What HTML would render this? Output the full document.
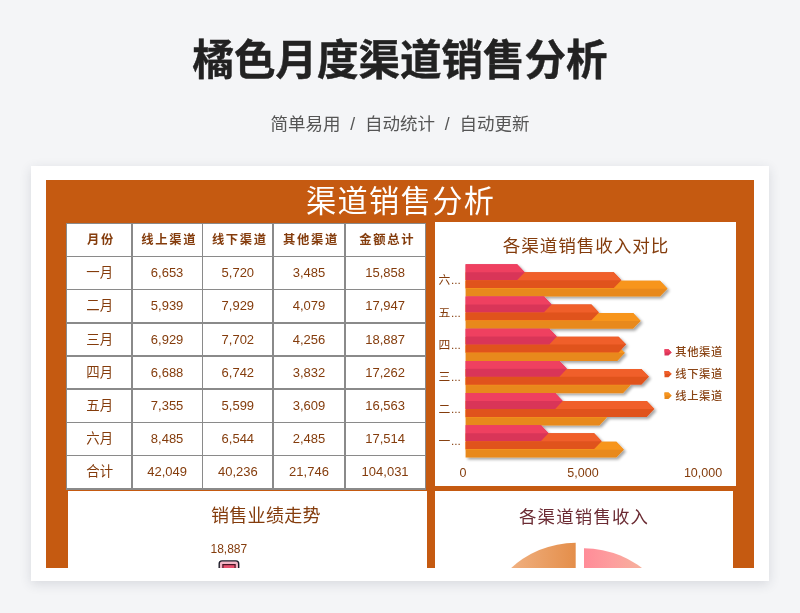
<!DOCTYPE html>
<html lang="zh-CN"><head><meta charset="utf-8"><title>橘色月度渠道销售分析</title>
<style>
html,body{margin:0;padding:0;}
body{width:800px;height:613px;overflow:hidden;background:#f4f5f7;position:relative;font-family:"Liberation Sans","Noto Sans CJK SC",sans-serif;}
.abs{position:absolute;}
.title{left:0;width:800px;top:30.3px;-webkit-text-stroke:0.45px #222;height:62px;line-height:62px;text-align:center;font-size:41.5px;font-weight:700;color:#222;letter-spacing:0;}
.sub{left:0;width:800px;top:110px;height:28px;line-height:28px;text-align:center;font-size:17.5px;color:#555;word-spacing:5px;}
.card{left:31px;top:166px;width:738px;height:415px;background:#fff;box-shadow:0 3px 11px rgba(40,50,70,0.14);}
.head{left:0;width:800px;top:181.7px;height:42px;line-height:40px;text-align:center;color:#fff;font-size:30.2px;font-weight:400;letter-spacing:1.4px;text-indent:1.4px;}
.cell{position:absolute;text-align:center;color:#843c0c;font-size:13px;white-space:nowrap;}
.th{font-weight:700;font-size:12.3px;letter-spacing:1.7px;text-indent:4.1px;}
.c0{font-size:13.4px;text-indent:1.4px;}
.panel{background:#fff;}
svg text{font-family:"Liberation Sans","Noto Sans CJK SC",sans-serif;}
</style></head><body>
<div class="abs title">橘色月度渠道销售分析</div>
<div class="abs sub">简单易用 / 自动统计 / 自动更新</div>
<div class="abs card"></div>
<div class="abs" style="left:46px;top:180px;width:708px;height:388px;background:#c55a11;"></div>
<div class="abs head">渠道销售分析</div>

<div class="abs" style="left:65.5px;top:222.5px;width:360.7px;height:267.1px;background:#8a8a8a;"></div>
<div class="cell th" style="left:67.0px;top:224.0px;width:64.0px;height:31.7px;line-height:32.7px;background:#fff;">月份</div>
<div class="cell th" style="left:132.5px;top:224.0px;width:69.2px;height:31.7px;line-height:32.7px;background:#fff;">线上渠道</div>
<div class="cell th" style="left:203.2px;top:224.0px;width:69.3px;height:31.7px;line-height:32.7px;background:#fff;">线下渠道</div>
<div class="cell th" style="left:274.0px;top:224.0px;width:70.0px;height:31.7px;line-height:32.7px;background:#fff;">其他渠道</div>
<div class="cell th" style="left:345.5px;top:224.0px;width:79.2px;height:31.7px;line-height:32.7px;background:#fff;">金额总计</div>
<div class="cell c0" style="left:67.0px;top:257.2px;width:64.0px;height:31.7px;line-height:32.7px;background:#fff;">一月</div>
<div class="cell" style="left:132.5px;top:257.2px;width:69.2px;height:31.7px;line-height:32.7px;background:#fff;">6,653</div>
<div class="cell" style="left:203.2px;top:257.2px;width:69.3px;height:31.7px;line-height:32.7px;background:#fff;">5,720</div>
<div class="cell" style="left:274.0px;top:257.2px;width:70.0px;height:31.7px;line-height:32.7px;background:#fff;">3,485</div>
<div class="cell" style="left:345.5px;top:257.2px;width:79.2px;height:31.7px;line-height:32.7px;background:#fff;">15,858</div>
<div class="cell c0" style="left:67.0px;top:290.4px;width:64.0px;height:31.7px;line-height:32.7px;background:#fff;">二月</div>
<div class="cell" style="left:132.5px;top:290.4px;width:69.2px;height:31.7px;line-height:32.7px;background:#fff;">5,939</div>
<div class="cell" style="left:203.2px;top:290.4px;width:69.3px;height:31.7px;line-height:32.7px;background:#fff;">7,929</div>
<div class="cell" style="left:274.0px;top:290.4px;width:70.0px;height:31.7px;line-height:32.7px;background:#fff;">4,079</div>
<div class="cell" style="left:345.5px;top:290.4px;width:79.2px;height:31.7px;line-height:32.7px;background:#fff;">17,947</div>
<div class="cell c0" style="left:67.0px;top:323.6px;width:64.0px;height:31.7px;line-height:32.7px;background:#fff;">三月</div>
<div class="cell" style="left:132.5px;top:323.6px;width:69.2px;height:31.7px;line-height:32.7px;background:#fff;">6,929</div>
<div class="cell" style="left:203.2px;top:323.6px;width:69.3px;height:31.7px;line-height:32.7px;background:#fff;">7,702</div>
<div class="cell" style="left:274.0px;top:323.6px;width:70.0px;height:31.7px;line-height:32.7px;background:#fff;">4,256</div>
<div class="cell" style="left:345.5px;top:323.6px;width:79.2px;height:31.7px;line-height:32.7px;background:#fff;">18,887</div>
<div class="cell c0" style="left:67.0px;top:356.8px;width:64.0px;height:31.7px;line-height:32.7px;background:#fff;">四月</div>
<div class="cell" style="left:132.5px;top:356.8px;width:69.2px;height:31.7px;line-height:32.7px;background:#fff;">6,688</div>
<div class="cell" style="left:203.2px;top:356.8px;width:69.3px;height:31.7px;line-height:32.7px;background:#fff;">6,742</div>
<div class="cell" style="left:274.0px;top:356.8px;width:70.0px;height:31.7px;line-height:32.7px;background:#fff;">3,832</div>
<div class="cell" style="left:345.5px;top:356.8px;width:79.2px;height:31.7px;line-height:32.7px;background:#fff;">17,262</div>
<div class="cell c0" style="left:67.0px;top:390.0px;width:64.0px;height:31.7px;line-height:32.7px;background:#fff;">五月</div>
<div class="cell" style="left:132.5px;top:390.0px;width:69.2px;height:31.7px;line-height:32.7px;background:#fff;">7,355</div>
<div class="cell" style="left:203.2px;top:390.0px;width:69.3px;height:31.7px;line-height:32.7px;background:#fff;">5,599</div>
<div class="cell" style="left:274.0px;top:390.0px;width:70.0px;height:31.7px;line-height:32.7px;background:#fff;">3,609</div>
<div class="cell" style="left:345.5px;top:390.0px;width:79.2px;height:31.7px;line-height:32.7px;background:#fff;">16,563</div>
<div class="cell c0" style="left:67.0px;top:423.2px;width:64.0px;height:31.7px;line-height:32.7px;background:#fff;">六月</div>
<div class="cell" style="left:132.5px;top:423.2px;width:69.2px;height:31.7px;line-height:32.7px;background:#fff;">8,485</div>
<div class="cell" style="left:203.2px;top:423.2px;width:69.3px;height:31.7px;line-height:32.7px;background:#fff;">6,544</div>
<div class="cell" style="left:274.0px;top:423.2px;width:70.0px;height:31.7px;line-height:32.7px;background:#fff;">2,485</div>
<div class="cell" style="left:345.5px;top:423.2px;width:79.2px;height:31.7px;line-height:32.7px;background:#fff;">17,514</div>
<div class="cell c0" style="left:67.0px;top:456.4px;width:64.0px;height:31.7px;line-height:32.7px;background:#fff;">合计</div>
<div class="cell" style="left:132.5px;top:456.4px;width:69.2px;height:31.7px;line-height:32.7px;background:#fff;">42,049</div>
<div class="cell" style="left:203.2px;top:456.4px;width:69.3px;height:31.7px;line-height:32.7px;background:#fff;">40,236</div>
<div class="cell" style="left:274.0px;top:456.4px;width:70.0px;height:31.7px;line-height:32.7px;background:#fff;">21,746</div>
<div class="cell" style="left:345.5px;top:456.4px;width:79.2px;height:31.7px;line-height:32.7px;background:#fff;">104,031</div>
<div class="abs panel" style="left:434.5px;top:221.5px;width:301px;height:264px;"></div>
<div class="abs panel" style="left:67.5px;top:490.5px;width:359.5px;height:77.5px;"></div>
<div class="abs panel" style="left:434.5px;top:490.5px;width:298.2px;height:77.5px;"></div>
<svg class="abs" style="left:0;top:0;" width="800" height="613" viewBox="0 0 800 613">
<defs>
<filter id="sh" x="-5%" y="-5%" width="112%" height="112%"><feGaussianBlur in="SourceAlpha" stdDeviation="1.7"/><feOffset dx="1.6" dy="1.8"/><feComponentTransfer><feFuncA type="linear" slope="0.36"/></feComponentTransfer><feMerge><feMergeNode/><feMergeNode in="SourceGraphic"/></feMerge></filter>
<linearGradient id="gO" gradientUnits="userSpaceOnUse" x1="511" y1="0" x2="576" y2="0"><stop offset="0" stop-color="#f0b080"/><stop offset="1" stop-color="#e48e4a"/></linearGradient>
<linearGradient id="gP" gradientUnits="userSpaceOnUse" x1="584" y1="0" x2="641" y2="0"><stop offset="0" stop-color="#ff8c98"/><stop offset="0.5" stop-color="#fd9e9e"/><stop offset="1" stop-color="#f6b09c"/></linearGradient>
<clipPath id="cp2"><rect x="434.5" y="490.5" width="301" height="77.5"/></clipPath>
<clipPath id="cp1"><rect x="67.5" y="490.5" width="359.5" height="77.5"/></clipPath>
</defs>
<text x="586" y="252.3" text-anchor="middle" font-size="17.6" letter-spacing="0.9" fill="#843c0c">各渠道销售收入对比</text>
<g filter="url(#sh)">
<g><path d="M465.6 280.8H660.0L667.5 288.7L660.0 296.6H465.6Z" fill="#e8891a"/><path d="M465.6 280.8H660.0L667.5 288.7H465.6Z" fill="#f7951e"/></g>
<g><path d="M465.6 272.3H613.8L621.3 280.2L613.8 288.1H465.6Z" fill="#e0521f"/><path d="M465.6 272.3H613.8L621.3 280.2H465.6Z" fill="#f05f2a"/></g>
<g><path d="M465.6 264.3H517.2L524.7 272.2L517.2 280.1H465.6Z" fill="#d93458"/><path d="M465.6 264.3H517.2L524.7 272.2H465.6Z" fill="#ef4060"/></g>
<g><path d="M465.6 313.0H633.1L640.6 320.9L633.1 328.8H465.6Z" fill="#e8891a"/><path d="M465.6 313.0H633.1L640.6 320.9H465.6Z" fill="#f7951e"/></g>
<g><path d="M465.6 304.5H591.4L598.9 312.4L591.4 320.3H465.6Z" fill="#e0521f"/><path d="M465.6 304.5H591.4L598.9 312.4H465.6Z" fill="#f05f2a"/></g>
<g><path d="M465.6 296.5H544.0L551.5 304.4L544.0 312.3H465.6Z" fill="#d93458"/><path d="M465.6 296.5H544.0L551.5 304.4H465.6Z" fill="#ef4060"/></g>
<g><path d="M465.6 345.2H617.3L624.8 353.1L617.3 361.0H465.6Z" fill="#e8891a"/><path d="M465.6 345.2H617.3L624.8 353.1H465.6Z" fill="#f7951e"/></g>
<g><path d="M465.6 336.7H618.6L626.1 344.6L618.6 352.5H465.6Z" fill="#e0521f"/><path d="M465.6 336.7H618.6L626.1 344.6H465.6Z" fill="#f05f2a"/></g>
<g><path d="M465.6 328.7H549.3L556.8 336.6L549.3 344.5H465.6Z" fill="#d93458"/><path d="M465.6 328.7H549.3L556.8 336.6H465.6Z" fill="#ef4060"/></g>
<g><path d="M465.6 377.4H623.0L630.5 385.3L623.0 393.2H465.6Z" fill="#e8891a"/><path d="M465.6 377.4H623.0L630.5 385.3H465.6Z" fill="#f7951e"/></g>
<g><path d="M465.6 368.9H641.4L648.9 376.8L641.4 384.7H465.6Z" fill="#e0521f"/><path d="M465.6 368.9H641.4L648.9 376.8H465.6Z" fill="#f05f2a"/></g>
<g><path d="M465.6 360.9H559.4L566.9 368.8L559.4 376.7H465.6Z" fill="#d93458"/><path d="M465.6 360.9H559.4L566.9 368.8H465.6Z" fill="#ef4060"/></g>
<g><path d="M465.6 409.6H599.4L606.9 417.5L599.4 425.40000000000003H465.6Z" fill="#e8891a"/><path d="M465.6 409.6H599.4L606.9 417.5H465.6Z" fill="#f7951e"/></g>
<g><path d="M465.6 401.1H646.8L654.3 409.0L646.8 416.90000000000003H465.6Z" fill="#e0521f"/><path d="M465.6 401.1H646.8L654.3 409.0H465.6Z" fill="#f05f2a"/></g>
<g><path d="M465.6 393.1H555.2L562.7 401.0L555.2 408.90000000000003H465.6Z" fill="#d93458"/><path d="M465.6 393.1H555.2L562.7 401.0H465.6Z" fill="#ef4060"/></g>
<g><path d="M465.6 441.8H616.4L623.9 449.7L616.4 457.6H465.6Z" fill="#e8891a"/><path d="M465.6 441.8H616.4L623.9 449.7H465.6Z" fill="#f7951e"/></g>
<g><path d="M465.6 433.3H594.2L601.7 441.2L594.2 449.1H465.6Z" fill="#e0521f"/><path d="M465.6 433.3H594.2L601.7 441.2H465.6Z" fill="#f05f2a"/></g>
<g><path d="M465.6 425.3H541.0L548.5 433.2L541.0 441.1H465.6Z" fill="#d93458"/><path d="M465.6 425.3H541.0L548.5 433.2H465.6Z" fill="#ef4060"/></g>
</g>
<text x="438.5" y="284.3" font-size="11.8" fill="#843c0c">六<tspan dx="0.6">...</tspan></text>
<text x="438.5" y="316.5" font-size="11.8" fill="#843c0c">五<tspan dx="0.6">...</tspan></text>
<text x="438.5" y="348.7" font-size="11.8" fill="#843c0c">四<tspan dx="0.6">...</tspan></text>
<text x="438.5" y="380.9" font-size="11.8" fill="#843c0c">三<tspan dx="0.6">...</tspan></text>
<text x="438.5" y="413.1" font-size="11.8" fill="#843c0c">二<tspan dx="0.6">...</tspan></text>
<text x="438.5" y="445.3" font-size="11.8" fill="#843c0c">一<tspan dx="0.6">...</tspan></text>
<text x="463.0" y="476.5" text-anchor="middle" font-size="12.5" fill="#843c0c">0</text>
<text x="583.0" y="476.5" text-anchor="middle" font-size="12.5" fill="#843c0c">5,000</text>
<text x="703.0" y="476.5" text-anchor="middle" font-size="12.5" fill="#843c0c">10,000</text>
<path d="M664.5 349.2H668.5L671.7 352.4L668.5 355.6H664.5Z" fill="#d93458"/><path d="M664.5 349.2H668.5L671.7 352.4H664.5Z" fill="#ef4060"/>
<text x="675.3" y="356.3" font-size="11.3" font-weight="500" letter-spacing="0.6" fill="#8a4516">其他渠道</text>
<path d="M664.5 370.9H668.5L671.7 374.1L668.5 377.3H664.5Z" fill="#e0521f"/><path d="M664.5 370.9H668.5L671.7 374.1H664.5Z" fill="#f05f2a"/>
<text x="675.3" y="378.0" font-size="11.3" font-weight="500" letter-spacing="0.6" fill="#8a4516">线下渠道</text>
<path d="M664.5 392.6H668.5L671.7 395.8L668.5 399.0H664.5Z" fill="#e8891a"/><path d="M664.5 392.6H668.5L671.7 395.8H664.5Z" fill="#f7951e"/>
<text x="675.3" y="399.7" font-size="11.3" font-weight="500" letter-spacing="0.6" fill="#8a4516">线上渠道</text>
<text x="265.9" y="521.7" text-anchor="middle" font-size="18" letter-spacing="0.3" fill="#843c0c">销售业绩走势</text>
<text x="210.5" y="553" font-size="12" fill="#843c0c">18,887</text>
<g clip-path="url(#cp1)"><rect x="219.2" y="560.9" width="19.5" height="14" rx="2.8" fill="#f3b6c6" stroke="#1c1c28" stroke-width="1.4"/><rect x="222.9" y="564.6" width="12.2" height="10" fill="#e8506e" stroke="#4a1424" stroke-width="1.2"/></g>
<text x="584.1" y="522.6" text-anchor="middle" font-size="17.4" letter-spacing="1.2" fill="#6b2b33">各渠道销售收入</text>
<g clip-path="url(#cp2)">
<path d="M575.7 638V542.8A95.2 95.2 0 0 0 480.5 638Z" fill="url(#gO)"/>
<path d="M584 643.3V548.3A95 95 0 0 1 679 643.3Z" fill="url(#gP)"/>
</g>
</svg>
</body></html>
